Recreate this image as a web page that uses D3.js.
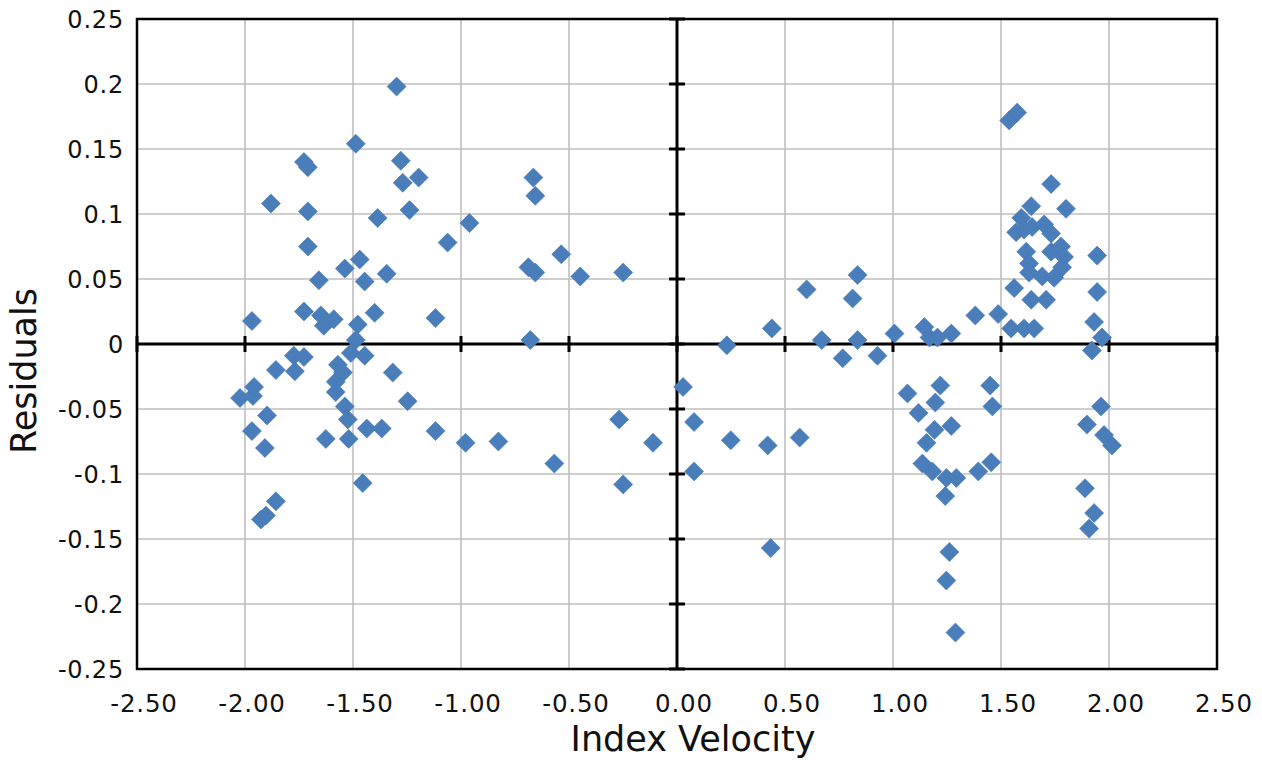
<!DOCTYPE html>
<html>
<head>
<meta charset="utf-8">
<script src="https://cdn.jsdelivr.net/npm/d3@7"></script>
<style>
  html, body { margin: 0; padding: 0; background: #ffffff; }
  svg { display: block; }
</style>
</head>
<body>
<svg id="chart" width="1262" height="765"></svg>
<script>
const xTickLabels = ["-2.50","-2.00","-1.50","-1.00","-0.50","0.00","0.50","1.00","1.50","2.00","2.50"];
const yTickLabels = ["-0.25","-0.2","-0.15","-0.1","-0.05","0","0.05","0.1","0.15","0.2","0.25"];
const xTicks = [-2.5,-2,-1.5,-1,-0.5,0,0.5,1,1.5,2,2.5];
const yTicks = [-0.25,-0.2,-0.15,-0.1,-0.05,0,0.05,0.1,0.15,0.2,0.25];

const velocity = [
  -1.968,-2.023,-1.963,-1.958,-1.968,-1.898,-1.908,-1.880,-1.857,-1.926,-1.903,-1.857,
  -1.774,-1.727,-1.769,-1.727,-1.709,-1.709,-1.709,-1.727,-1.658,-1.649,-1.635,-1.589,
  -1.626,-1.580,-1.580,-1.570,-1.547,-1.538,-1.538,-1.524,-1.520,-1.487,-1.469,-1.478,
  -1.487,-1.510,-1.446,-1.446,-1.436,-1.455,-1.400,-1.386,-1.367,-1.344,-1.316,-1.298,
  -1.279,-1.270,-1.238,-1.196,-1.247,-1.118,-1.118,-1.062,-0.961,-0.979,-0.827,-0.665,
  -0.656,-0.688,-0.656,-0.679,-0.536,-0.448,-0.568,-0.268,-0.249,-0.249,-0.111,
  0.028,0.079,0.079,0.231,0.249,0.420,0.434,0.439,0.568,0.600,0.670,0.767,0.813,0.836,
  0.836,0.928,1.007,1.067,1.118,1.145,1.169,1.206,1.270,1.219,1.196,1.192,1.270,1.155,
  1.136,1.182,1.247,1.293,1.242,1.261,1.247,1.289,1.381,1.395,1.455,1.450,1.460,1.487,
  1.538,1.575,1.732,1.640,1.801,1.594,1.570,1.607,1.644,1.700,1.732,1.617,1.630,1.630,
  1.691,1.746,1.732,1.778,1.792,1.783,1.561,1.640,1.709,1.547,1.607,1.654,1.945,1.945,
  1.931,1.968,1.921,1.963,1.898,1.977,2.014,1.889,1.931,1.908
];
const residuals = [
  0.0177,-0.0415,-0.040,-0.033,-0.067,-0.055,-0.080,0.108,-0.020,-0.135,-0.132,-0.121,
  -0.009,-0.010,-0.021,0.140,0.136,0.102,0.075,0.025,0.049,0.022,0.014,0.019,
  -0.073,-0.029,-0.037,-0.016,-0.022,0.058,-0.048,-0.058,-0.073,0.154,0.065,0.015,
  0.003,-0.007,-0.009,0.048,-0.065,-0.107,0.024,0.097,-0.065,0.054,-0.022,0.198,
  0.141,0.124,0.103,0.128,-0.044,-0.067,0.020,0.078,0.093,-0.076,-0.075,0.128,
  0.114,0.059,0.055,0.003,0.069,0.052,-0.092,-0.058,0.055,-0.108,-0.076,
  -0.033,-0.060,-0.098,-0.001,-0.074,-0.078,-0.157,0.012,-0.072,0.042,0.003,-0.011,0.035,0.053,
  0.003,-0.009,0.008,-0.038,-0.053,0.013,0.005,0.005,0.008,-0.032,-0.045,-0.066,-0.063,-0.076,
  -0.092,-0.098,-0.103,-0.103,-0.117,-0.160,-0.182,-0.222,0.022,-0.098,-0.091,-0.032,-0.048,0.023,
  0.172,0.178,0.123,0.106,0.104,0.097,0.086,0.088,0.090,0.092,0.085,0.071,0.062,0.055,
  0.052,0.051,0.071,0.075,0.067,0.059,0.043,0.034,0.034,0.012,0.012,0.012,0.068,0.040,
  0.017,0.005,-0.005,-0.048,-0.062,-0.070,-0.078,-0.111,-0.130,-0.142
];

const svg = d3.select("#chart");
const x = d3.scaleLinear().domain([-2.5, 2.5]).range([137, 1217]);
const y = d3.scaleLinear().domain([-0.25, 0.25]).range([669, 19]);
const FONT = "'DejaVu Sans', sans-serif";

// gridlines
const grid = svg.append("g");
grid.selectAll("line.vx").data(xTicks).enter().append("line")
  .attr("x1", d => x(d)).attr("x2", d => x(d))
  .attr("y1", y(0.25)).attr("y2", y(-0.25))
  .attr("stroke", "#bfbfbf").attr("stroke-width", 1.6);
grid.selectAll("line.hy").data(yTicks).enter().append("line")
  .attr("y1", d => y(d)).attr("y2", d => y(d))
  .attr("x1", x(-2.5)).attr("x2", x(2.5))
  .attr("stroke", "#bfbfbf").attr("stroke-width", 1.6);

// frame
svg.append("rect")
  .attr("x", x(-2.5)).attr("y", y(0.25))
  .attr("width", x(2.5) - x(-2.5)).attr("height", y(-0.25) - y(0.25))
  .attr("fill", "none").attr("stroke", "#000").attr("stroke-width", 2.5);

// zero axes
svg.append("line").attr("x1", x(-2.5)).attr("x2", x(2.5))
  .attr("y1", y(0)).attr("y2", y(0)).attr("stroke", "#000").attr("stroke-width", 3);
svg.append("line").attr("x1", x(0)).attr("x2", x(0))
  .attr("y1", y(0.25)).attr("y2", y(-0.25)).attr("stroke", "#000").attr("stroke-width", 3);

// crossing ticks
svg.append("g").selectAll("line").data(xTicks).enter().append("line")
  .attr("x1", d => x(d)).attr("x2", d => x(d))
  .attr("y1", y(0) - 8).attr("y2", y(0) + 8)
  .attr("stroke", "#000").attr("stroke-width", 3);
svg.append("g").selectAll("line").data(yTicks).enter().append("line")
  .attr("y1", d => y(d)).attr("y2", d => y(d))
  .attr("x1", x(0) - 8).attr("x2", x(0) + 8)
  .attr("stroke", "#000").attr("stroke-width", 3);

// tick labels
svg.append("g").selectAll("text").data(xTicks).enter().append("text")
  .attr("x", d => x(d) + 7).attr("y", 712)
  .attr("text-anchor", "middle")
  .attr("font-family", FONT).attr("font-size", 24.5)
  .attr("letter-spacing", 0.8)
  .attr("fill", "#111")
  .text((d, i) => xTickLabels[i]);
svg.append("g").selectAll("text").data(yTicks).enter().append("text")
  .attr("x", 124).attr("y", d => y(d))
  .attr("dy", "0.36em")
  .attr("text-anchor", "end")
  .attr("font-family", FONT).attr("font-size", 24)
  .attr("letter-spacing", 0.8)
  .attr("fill", "#111")
  .text((d, i) => yTickLabels[i]);

// axis titles
svg.append("text").attr("x", 693).attr("y", 751)
  .attr("text-anchor", "middle")
  .attr("font-family", FONT).attr("font-size", 35)
  .attr("fill", "#111")
  .text("Index Velocity");
svg.append("text")
  .attr("transform", "translate(36,371) rotate(-90)")
  .attr("text-anchor", "middle")
  .attr("font-family", FONT).attr("font-size", 35)
  .attr("fill", "#111")
  .text("Residuals");

// points
const r = 9.5;
const diamond = `M0,${-r}L${r},0L0,${r}L${-r},0Z`;
svg.append("g").selectAll("path").data(velocity.map((v, i) => [v, residuals[i]]))
  .enter().append("path")
  .attr("d", diamond)
  .attr("transform", d => `translate(${x(d[0])},${y(d[1])})`)
  .attr("fill", "#4a7ebb")
  .attr("stroke", "#4677b4").attr("stroke-width", 0.6);
</script>
</body>
</html>
